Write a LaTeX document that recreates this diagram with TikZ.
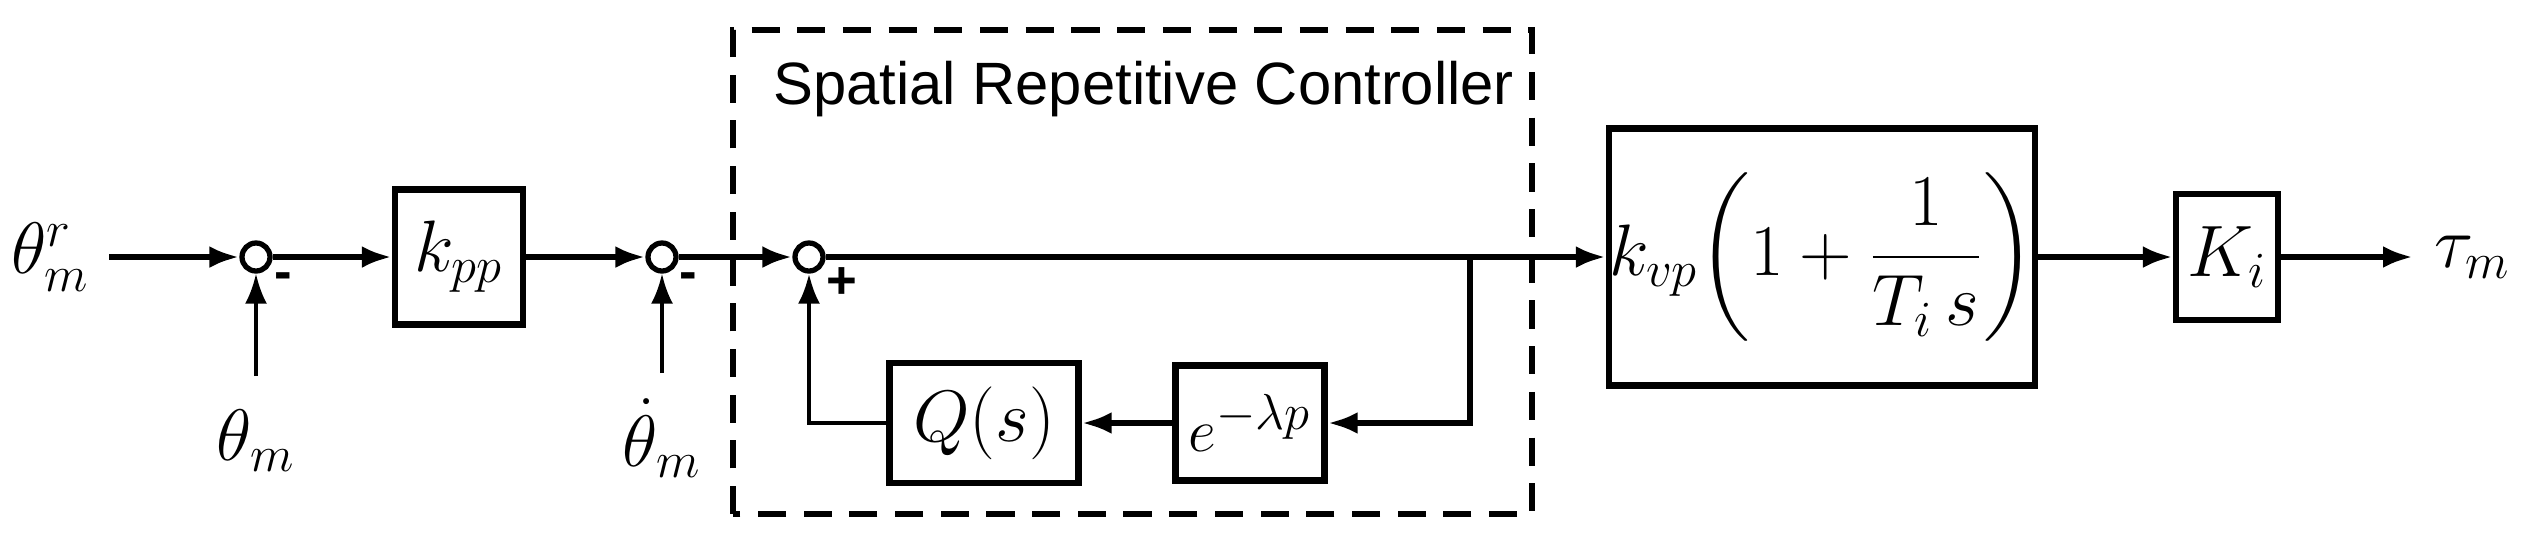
\documentclass[tikz,border=0pt]{standalone}
\usepackage{amsmath,amssymb}
\usepackage{fontspec}
\setsansfont{Liberation Sans}
\usetikzlibrary{arrows.meta}

\tikzset{
  blk/.style={draw,line width=1.8pt,inner sep=0pt,font=\fontsize{22}{26}\selectfont},
  sumc/.style={draw,circle,line width=1.5pt,minimum size=0.28cm,inner sep=0pt},
  sig/.style={line width=1.7pt,-{Latex[length=0.3cm,width=0.22cm]}},
  lbl/.style={font=\fontsize{22}{26}\selectfont},
  sgn/.style={font=\sffamily\bfseries\fontsize{15}{17}\selectfont}
}

\begin{document}
\begin{tikzpicture}
    \useasboundingbox (0,0) rectangle (25.24,5.53);

    % Spatial repetitive controller frame
    \draw[line width=1.6pt,dash pattern=on 8pt off 5pt] (7.33,0.39) rectangle (15.32,5.23);
    \node[anchor=base west,font=\sffamily\fontsize{17}{20}\selectfont] (title) at (7.61,4.49) {Spatial Repetitive Controller};

    % Forward path
    \node[lbl,anchor=east] (thr) at (1.02,2.96) {$\theta_m^r$};
    \coordinate (in) at (1.09,2.96);
    \node[sumc] (s1) at (2.56,2.96) {};
    \node[blk,minimum width=1.28cm,minimum height=1.35cm] (kpp) at (4.59,2.96) {$k_{pp}$};
    \node[sumc] (s2) at (6.62,2.96) {};
    \node[sumc] (s3) at (8.09,2.96) {};
    \node[blk,minimum width=4.25cm,minimum height=2.57cm,font=\fontsize{20}{24}\selectfont] (kvp) at (18.22,2.96)
        {$k_{vp}\!\left(1+\dfrac{1}{T_i\,s}\right)$};
    \node[blk,minimum width=1.02cm,minimum height=1.26cm] (ki) at (22.27,2.96) {$K_i$};
    \coordinate (out) at (24.13,2.96);
    \node[lbl,anchor=west] (tau) at (24.22,2.96) {$\tau_m$};

    % Measured signals
    \node[lbl] (thm) at (2.56,1.12) {$\theta_m$};
    \coordinate (thmin) at (2.56,1.77);
    \node[lbl] (dthm) at (6.62,1.15) {$\dot{\theta}_m$};
    \coordinate (dthmin) at (6.62,1.80);

    % Repetitive loop
    \node[blk,minimum width=1.89cm,minimum height=1.20cm] (q) at (9.84,1.30) {$Q(s)$};
    \node[blk,minimum width=1.49cm,minimum height=1.15cm,font=\fontsize{19}{22}\selectfont] (del) at (12.50,1.30) {$e^{-\lambda p}$};
    \coordinate (br) at (14.70,2.96);
    \coordinate (brd) at (14.70,1.30);
    \coordinate (fb) at (8.09,1.30);

    \draw[sig] (in) -- (s1);
    \draw[sig] (s1) -- (kpp);
    \draw[sig] (kpp) -- (s2);
    \draw[sig] (s2) -- (s3);
    \draw[sig] (s3) -- (kvp);
    \draw[sig] (kvp) -- (ki);
    \draw[sig] (ki) -- (out);
    \draw[sig,line width=1.1pt] (thmin) -- (s1);
    \draw[sig,line width=1.1pt] (dthmin) -- (s2);
    \draw[sig] (br) -- (brd) -- (del);
    \draw[sig] (del) -- (q);
    \draw[sig,line width=1.2pt] (q) -- (fb) -- (s3);

    % Signs
    \node[sgn] (m1) at (2.83,2.72) {-};
    \node[sgn] (m2) at (6.88,2.72) {-};
    \node[sgn] (p3) at (8.42,2.70) {+};
\end{tikzpicture}
\end{document}
